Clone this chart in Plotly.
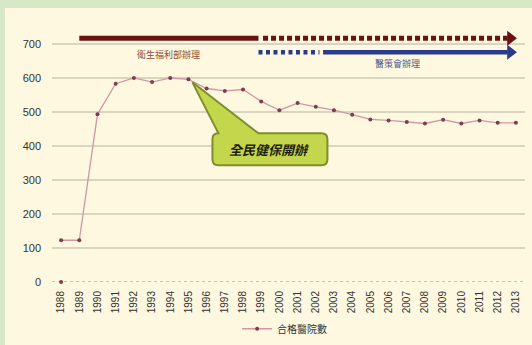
import plotly.graph_objects as go

years = list(range(1988, 2014))
hospitals = [123, 123, 494, 584, 601, 589, 601, 597, 570, 563, 567, 532, 506,
             527, 516, 506, 493, 479, 476, 471, 467, 478, 467, 476, 469, 469]
tick_labels = [str(y) for y in years]
series_name = "合格醫院數"

# administration periods (arrows above the line)
moh_label = "衛生福利部辦理"
moh_level = 718
moh_solid = [1989, 1998.85]
moh_dotted = [1999.1, 2012.55]
jct_label = "醫策會辦理"
jct_level = 677
jct_dotted = [1998.85, 2002.2]
jct_solid = [2002.4, 2012.55]
arrow_tip_x = 2012.7

callout_text = "全民健保開辦"
callout_year = 1995
callout_value = 597

brown = "#6a1212"
navy = "#2a3b8c"
font_fam = "Liberation Sans, Arial, Noto Sans CJK TC, sans-serif"
cjk = "Noto Sans CJK TC, sans-serif"

fig = go.Figure()

# main series
fig.add_trace(go.Scatter(
    x=years, y=hospitals, mode="lines+markers", name=series_name,
    line=dict(color="#cf98a4", width=1.3),
    marker=dict(color="#7d3c50", size=4),
    cliponaxis=False,
))
fig.add_trace(go.Scatter(
    x=[years[0]], y=[0], mode="markers", showlegend=False,
    marker=dict(color="#7d3c50", size=4), cliponaxis=False, hoverinfo="skip",
))

# brown arrow (衛生福利部)
fig.add_trace(go.Scatter(x=moh_solid, y=[moh_level] * 2, mode="lines", showlegend=False,
                         line=dict(color=brown, width=5), hoverinfo="skip"))
fig.add_trace(go.Scatter(x=moh_dotted, y=[moh_level] * 2, mode="lines", showlegend=False,
                         line=dict(color=brown, width=5, dash="5px,3px"), hoverinfo="skip"))
fig.add_trace(go.Scatter(x=[arrow_tip_x], y=[moh_level], mode="markers", showlegend=False,
                         marker=dict(symbol="triangle-right", size=13, color=brown),
                         hoverinfo="skip", cliponaxis=False))
# blue arrow (醫策會)
fig.add_trace(go.Scatter(x=jct_dotted, y=[jct_level] * 2, mode="lines", showlegend=False,
                         line=dict(color=navy, width=4.5, dash="4px,3.5px"), hoverinfo="skip"))
fig.add_trace(go.Scatter(x=jct_solid, y=[jct_level] * 2, mode="lines", showlegend=False,
                         line=dict(color=navy, width=4.5), hoverinfo="skip"))
fig.add_trace(go.Scatter(x=[arrow_tip_x], y=[jct_level], mode="markers", showlegend=False,
                         marker=dict(symbol="triangle-right", size=13, color=navy),
                         hoverinfo="skip", cliponaxis=False))

shapes = [
    # cream panel on green background
    dict(type="rect", xref="paper", yref="paper", x0=-0.0994, x1=1.03, y0=-0.3, y1=1.062,
         fillcolor="#fdf8df", line=dict(width=0), layer="below"),
    # dotted zero line
    dict(type="line", xref="paper", yref="y", x0=0, x1=1, y0=0, y1=0,
         line=dict(color="#b8b4a4", width=1.5, dash="dot"), layer="below"),
    # callout box with pointer
    dict(type="path", xref="x", yref="y", xsizemode="pixel", ysizemode="pixel",
         xanchor=callout_year, yanchor=callout_value,
         path="M 30,-54 L 4,-3 L 70,-54 L 133,-54 Q 139,-54 139,-60 L 139,-80 "
              "Q 139,-86 133,-86 L 30,-86 Q 24,-86 24,-80 L 24,-60 Q 24,-54 30,-54 Z",
         fillcolor="#c4d64c", line=dict(color="#7f8e2a", width=2), layer="above"),
]

annotations = [
    dict(x=1993.9, y=671, text=moh_label, showarrow=False,
         font=dict(family=cjk, size=9, color="#8a4a3a")),
    dict(x=2006.5, y=645, text=jct_label, showarrow=False,
         font=dict(family=cjk, size=9, color="#4a5890")),
    dict(x=callout_year, y=callout_value, xshift=81, yshift=-70,
         text="<b><i>" + callout_text + "</i></b>", showarrow=False,
         font=dict(family=cjk, size=13, color="#1c1c10")),
]

fig.update_layout(
    width=532, height=345,
    margin=dict(l=52, r=7, t=24, b=63, autoexpand=False),
    paper_bgcolor="#d6e8c6",
    plot_bgcolor="rgba(0,0,0,0)",
    font=dict(family=font_fam, size=11, color="#333333"),
    shapes=shapes,
    annotations=annotations,
    showlegend=True,
    legend=dict(orientation="h", xref="container", yref="container",
                x=0.535, xanchor="center", y=0.005, yanchor="bottom",
                bgcolor="rgba(0,0,0,0)", itemwidth=30,
                font=dict(family=cjk, size=10, color="#333333")),
    xaxis=dict(range=[1987.5, 2013.5], tickmode="array", tickvals=years, ticktext=tick_labels,
               tickangle=-90, showgrid=False, zeroline=False, showline=False, automargin=False,
               tickfont=dict(size=10, color="#333333"), ticklabelstandoff=6),
    yaxis=dict(range=[0, 760], tickmode="array", tickvals=[0, 100, 200, 300, 400, 500, 600, 700],
               showgrid=True, gridcolor="#d9d5c0", gridwidth=1.5, zeroline=False, showline=False,
               automargin=False,
               tickfont=dict(size=11, color="#333333"), ticklabelstandoff=10),
)

fig.write_html("out.html")
